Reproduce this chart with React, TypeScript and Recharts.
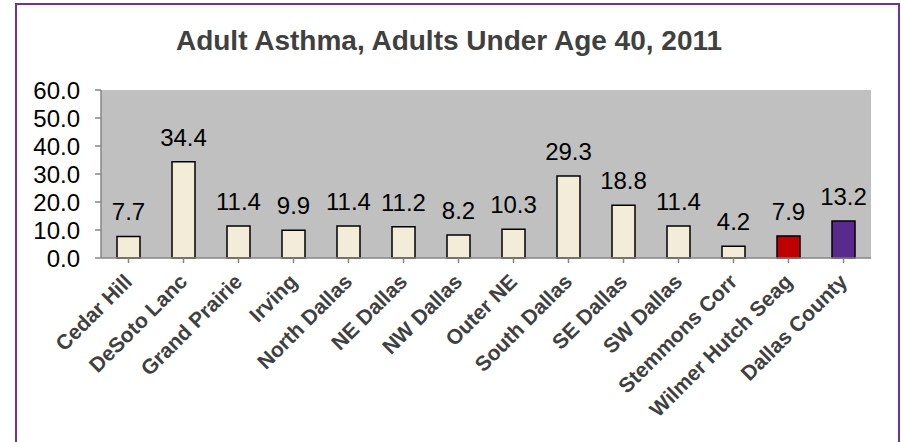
import React from "react";
import { BarChart, Bar, XAxis, YAxis, CartesianGrid, Cell, LabelList } from "recharts";

const categories = [
  "Cedar Hill",
  "DeSoto Lanc",
  "Grand Prairie",
  "Irving",
  "North Dallas",
  "NE Dallas",
  "NW Dallas",
  "Outer NE",
  "South Dallas",
  "SE Dallas",
  "SW Dallas",
  "Stemmons Corr",
  "Wilmer Hutch Seag",
  "Dallas County",
];
const values = [7.7, 34.4, 11.4, 9.9, 11.4, 11.2, 8.2, 10.3, 29.3, 18.8, 11.4, 4.2, 7.9, 13.2];
const yTicks = [0, 10, 20, 30, 40, 50, 60];
const title = "Adult Asthma, Adults Under Age 40, 2011";

const data = categories.map((name, i) => ({ name, value: values[i] }));

const BAR_DEFAULT = "#F2ECD8";
const highlight: Record<string, string> = {
  "Wilmer Hutch Seag": "#C00000",
  "Dallas County": "#582A8C",
};
const FONT = "'Liberation Sans', Arial, sans-serif";

const XTick = (props: any) => {
  const { x, y, payload } = props;
  const ax = x + 5;
  const ay = y + 18;
  return (
    <text
      x={ax}
      y={ay}
      transform={`rotate(-45 ${ax} ${ay})`}
      textAnchor="end"
      fontFamily={FONT}
      fontWeight="bold"
      fontSize={21}
      fill="#404040"
    >
      {payload.value}
    </text>
  );
};

export default function App() {
  return (
    <div style={{ position: "absolute", left: 0, top: 0, width: 901, height: 442, background: "#fff", overflow: "hidden" }}>
      <div
        style={{
          position: "absolute",
          left: 15,
          top: 3,
          width: 885,
          height: 460,
          border: "2px solid #7030A0",
          boxSizing: "border-box",
        }}
      />
      <div
        style={{
          position: "absolute",
          left: 0,
          top: 24,
          width: 898,
          textAlign: "center",
          fontFamily: FONT,
          fontWeight: "bold",
          fontSize: 28,
          color: "#404040",
          lineHeight: "34px",
          whiteSpace: "nowrap",
        }}
      >
        {title}
      </div>
      <div style={{ position: "absolute", left: 0, top: 0 }}>
        <BarChart
          width={901}
          height={442}
          data={data}
          margin={{ top: 90, right: 30, bottom: 34, left: 41 }}
          barSize={23}
        >
          <CartesianGrid horizontal={false} vertical={false} fill="#C0C0C0" />
          <XAxis
            dataKey="name"
            interval={0}
            height={150}
            axisLine={{ stroke: "#868686", strokeWidth: 1.5 }}
            tickLine={{ stroke: "#868686", strokeWidth: 1.5 }}
            tickSize={5}
            tick={<XTick />}
            scale="band"
          />
          <YAxis
            width={60}
            domain={[0, 60]}
            ticks={yTicks}
            interval={0}
            tickFormatter={(v: number) => v.toFixed(1)}
            axisLine={{ stroke: "#868686", strokeWidth: 1.5 }}
            tickLine={{ stroke: "#868686", strokeWidth: 1.5 }}
            tickSize={6}
            tickMargin={15}
            tick={{ fill: "#000", fontSize: 24, fontFamily: FONT }}
          />
          <Bar dataKey="value" stroke="#000" strokeWidth={1.5} isAnimationActive={false}>
            {data.map((d) => (
              <Cell key={d.name} fill={highlight[d.name] ?? BAR_DEFAULT} />
            ))}
            <LabelList
              dataKey="value"
              position="top"
              offset={16}
              formatter={(v: number) => v.toFixed(1)}
              style={{ fill: "#000", fontSize: 24, fontFamily: FONT }}
            />
          </Bar>
        </BarChart>
      </div>
    </div>
  );
}
